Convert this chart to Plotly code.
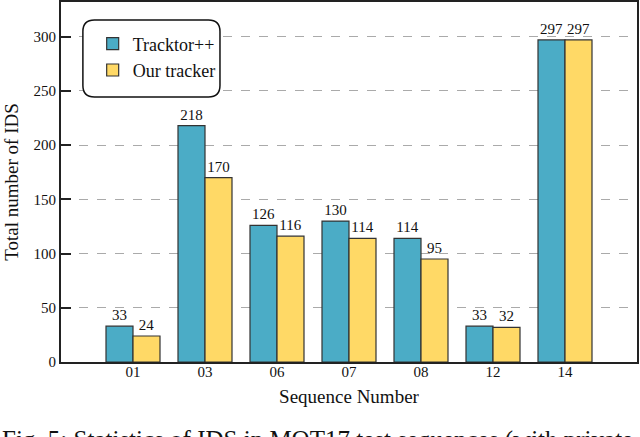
import plotly.graph_objects as go

secuencias = ['01', '03', '06', '07', '08', '12', '14']
tracktor = [33, 218, 126, 130, 114, 33, 297]
nuestro = [24, 170, 116, 114, 95, 32, 297]

serif = 'Liberation Serif, Times New Roman, Times, serif'

fig = go.Figure()
fig.add_trace(go.Bar(x=secuencias, y=tracktor, name='Tracktor++',
                     marker=dict(color='#4bacc6', line=dict(color='#333333', width=1.2)),
                     text=tracktor, textposition='outside', cliponaxis=False,
                     textfont=dict(family=serif, size=15, color='#111111')))
fig.add_trace(go.Bar(x=secuencias, y=nuestro, name='Our tracker',
                     marker=dict(color='#ffd966', line=dict(color='#333333', width=1.2)),
                     text=nuestro, textposition='outside', cliponaxis=False,
                     textfont=dict(family=serif, size=15, color='#111111')))

# caja de leyenda redondeada
x0, x1, y0, y1, r = 0.038, 0.276, 0.736, 0.95, 0.02
ry = r * 576 / 360
path = (f'M {x0+r},{y1} L {x1-r},{y1} Q {x1},{y1} {x1},{y1-ry} '
        f'L {x1},{y0+ry} Q {x1},{y0} {x1-r},{y0} L {x0+r},{y0} '
        f'Q {x0},{y0} {x0},{y0+ry} L {x0},{y1-ry} Q {x0},{y1} {x0+r},{y1} Z')
fig.add_shape(type='path', path=path, xref='paper', yref='paper',
              line=dict(color='#111111', width=1.5), fillcolor='white', layer='above')

fig.update_layout(
    width=640, height=437,
    margin=dict(l=61, r=3, t=2, b=75, autoexpand=False),
    paper_bgcolor='white', plot_bgcolor='white',
    font=dict(family=serif, color='#111111'),
    barmode='group', bargap=0.25, bargroupgap=0,
    showlegend=True,
    legend=dict(x=0.055, y=0.935, xanchor='left', yanchor='top',
                bgcolor='rgba(0,0,0,0)', font=dict(family=serif, size=18),
                itemwidth=30, tracegroupgap=4),
    annotations=[dict(text='Fig. 5: Statistics of IDS in MOT17 test sequences (with private',
                      xref='paper', yref='paper', x=-61/576, y=-62/360,
                      xanchor='left', yanchor='top', showarrow=False,
                      font=dict(family=serif, size=25, color='#111111'))],
)
fig.update_xaxes(range=[-1, 7], showline=True, linecolor='#222222', linewidth=2, mirror=True,
                 ticks='', tickfont=dict(size=15), ticklabelstandoff=-5,
                 title=dict(text='Sequence Number', font=dict(size=19), standoff=11))
fig.update_yaxes(range=[0, 332], tickvals=[0, 50, 100, 150, 200, 250, 300],
                 showline=True, linecolor='#222222', linewidth=2, mirror=True,
                 ticks='inside', ticklen=10, tickwidth=2, tickcolor='#222222',
                 tickfont=dict(size=15),
                 showgrid=True, gridcolor='#aaaaaa', griddash='dash', gridwidth=1,
                 zeroline=False, automargin=False,
                 title=dict(text='Total number of IDS', font=dict(size=19), standoff=10))

fig.write_html('out.html', config={'displayModeBar': False},
               post_script="document.body.style.margin='0px';")
